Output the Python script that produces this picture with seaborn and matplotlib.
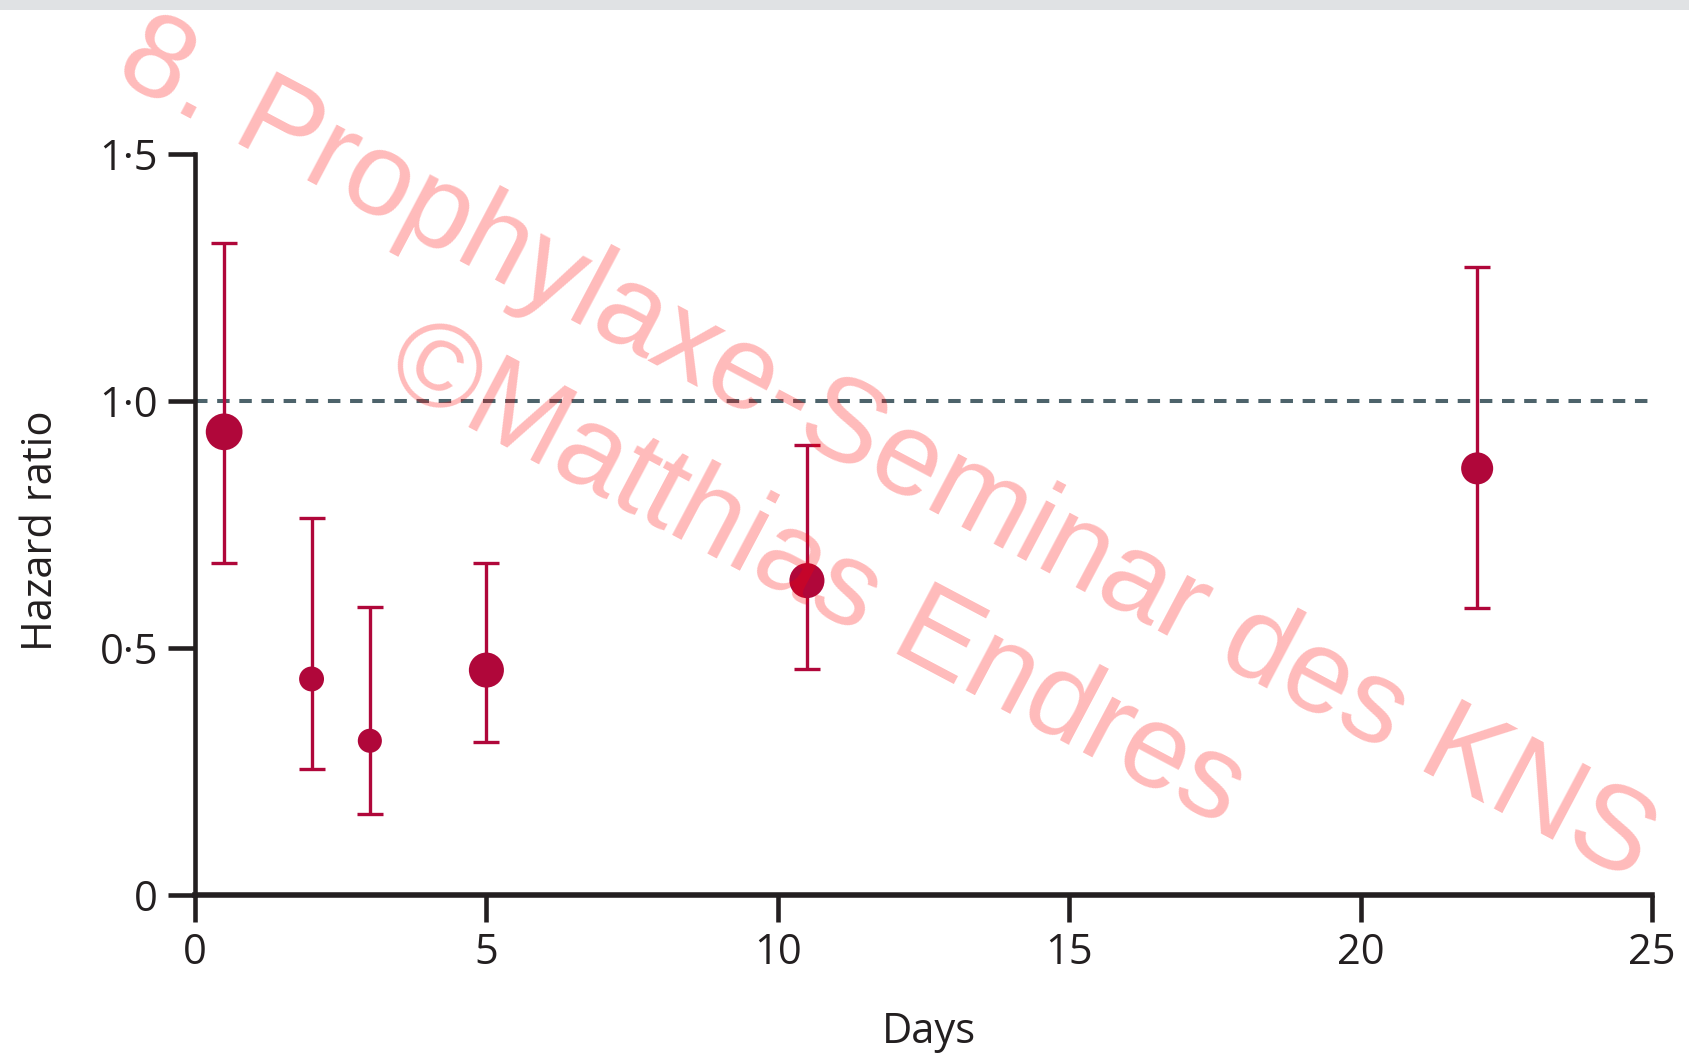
import numpy as np
import pandas as pd
import matplotlib
matplotlib.use("Agg")
import matplotlib.pyplot as plt
from matplotlib.patches import Rectangle
import seaborn as sns

# ---- data ----
days = [0.5, 2, 3, 5, 10.5, 22]
hazard_ratio = [0.937, 0.437, 0.312, 0.455, 0.636, 0.863]
ci_lower = [0.672, 0.254, 0.164, 0.310, 0.457, 0.581]
ci_upper = [1.318, 0.763, 0.582, 0.672, 0.910, 1.271]
weight = [1.0, 0.46, 0.43, 0.91, 0.91, 0.76]   # relative marker area
x_ticks = [0, 5, 10, 15, 20, 25]
y_ticks = [0, 0.5, 1.0, 1.5]
y_tick_labels = ["0", "0·5", "1·0", "1·5"]
reference_line = 1.0
x_label = "Days"
y_label = "Hazard ratio"
watermark_1 = "8. Prophylaxe-Seminar des KNS"
watermark_2 = "©Matthias Endres"

df = pd.DataFrame({"days": days, "hr": hazard_ratio, "lo": ci_lower,
                   "hi": ci_upper, "w": weight})

sns.set_style("ticks")
plt.rcParams["font.family"] = ["Open Sans", "DejaVu Sans"]

RED = "#b0073a"
INK = "#231f20"

fig = plt.figure(figsize=(16.9, 10.6), dpi=100)
fig.patch.set_facecolor("white")
W, H = 1690, 1060
ax = fig.add_axes([195 / W, 1 - 895 / H, (1652 - 195) / W, (895 - 153.5) / H])

# reference line
ax.axhline(reference_line, color="#4d636b", lw=2.9, dashes=(3.1, 2.4), zorder=1)

# error bars
yerr = np.vstack([df["hr"] - df["lo"], df["hi"] - df["hr"]])
ax.errorbar(df["days"], df["hr"], yerr=yerr, fmt="none", ecolor=RED,
            elinewidth=2.4, capsize=9.7, capthick=2.4, zorder=3)

# points
sns.scatterplot(data=df, x="days", y="hr", size="w", sizes=(0, 700),
                size_norm=(0, 1), color=RED, edgecolor="none", linewidth=0,
                legend=False, ax=ax, zorder=4)

ax.set_xlim(0, 25)
ax.set_ylim(0, 1.5)
ax.set_xticks(x_ticks)
ax.set_yticks(y_ticks)
ax.set_yticklabels(y_tick_labels)
sns.despine(ax=ax)
ax.spines["left"].set_linewidth(3.3)
ax.spines["bottom"].set_linewidth(4.0)
for s in ("left", "bottom"):
    ax.spines[s].set_color(INK)
ax.tick_params(axis="both", direction="out", length=19.5, width=3.3,
               color=INK, labelsize=30, labelcolor=INK, pad=7)

ax.set_xlabel(x_label, fontsize=30, color=INK)
ax.set_ylabel(y_label, fontsize=30, color=INK)
ax.xaxis.set_label_coords(0.5038, -0.1564)
ax.yaxis.set_label_coords(-0.0913, 0.4916)

# top grey band
fig.add_artist(Rectangle((0, 1 - 9.5 / H), 1, 9.5 / H, transform=fig.transFigure,
                         facecolor="#e0e2e4", edgecolor="none", zorder=0))

# watermark
wm = dict(color="red", alpha=0.27, fontsize=86, rotation=-27.9,
          rotation_mode="anchor", ha="left", va="baseline",
          family=["Liberation Sans", "DejaVu Sans"], zorder=10)
fig.text(112 / W, 1 - 76.5 / H, watermark_1, **wm)
fig.text(381 / W, 1 - 381 / H, watermark_2, **wm)

fig.savefig("out.png", dpi=100, facecolor="white")
